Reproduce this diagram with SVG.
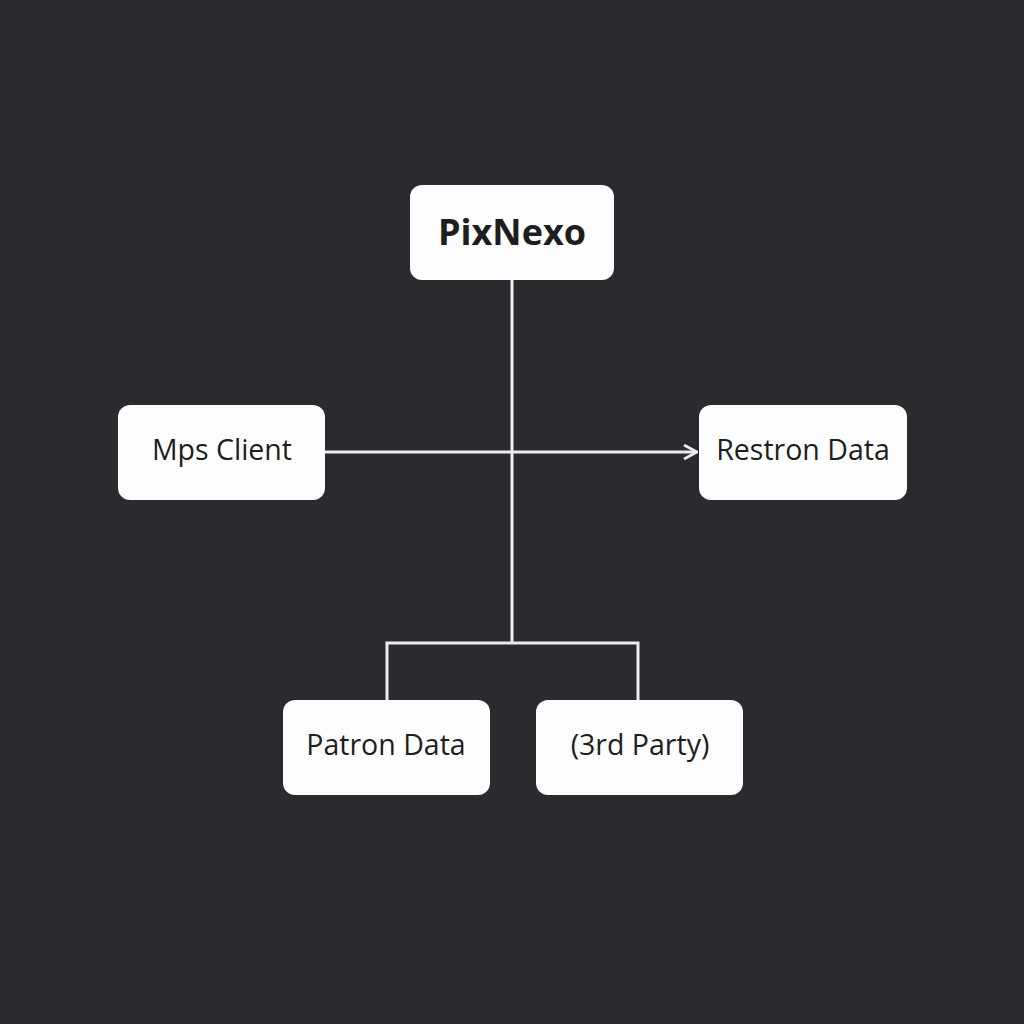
<svg xmlns="http://www.w3.org/2000/svg" width="1024" height="1024" viewBox="0 0 1024 1024">
<style>
.box{fill:#fdfdfd}
.lbl{font-family:"Open Sans","Noto Sans",sans-serif;font-size:28.5px;fill:#1e1e20;text-anchor:middle;dominant-baseline:central}
.title{font-weight:bold;font-size:36px}
.conn{stroke:#ececec;stroke-width:3;fill:none}
</style>
<defs>
<marker id="arr" viewBox="0 0 16 16" refX="15" refY="8" markerWidth="16" markerHeight="16" markerUnits="userSpaceOnUse" orient="auto">
<path d="M2,1 L15,8 L2,15" fill="none" stroke="#ececec" stroke-width="2.8"/>
</marker>
</defs>
<rect width="1024" height="1024" fill="#2a2b2f"/>
<g id="connectors">
<line class="conn" x1="512" y1="280" x2="512" y2="643"/>
<line class="conn" x1="325" y1="452" x2="697" y2="452" marker-end="url(#arr)"/>
<polyline class="conn" points="387,700 387,643 638,643 638,700"/>
</g>
<g id="pixnexo">
<rect class="box" x="410" y="185" width="204" height="95" rx="12"/>
<text class="lbl title" x="512" y="231">PixNexo</text>
</g>
<g id="mps-client">
<rect class="box" x="118" y="405" width="207" height="95" rx="12"/>
<text class="lbl" x="222" y="449">Mps Client</text>
</g>
<g id="restron-data">
<rect class="box" x="699" y="405" width="208" height="95" rx="12"/>
<text class="lbl" x="803" y="449">Restron Data</text>
</g>
<g id="patron-data">
<rect class="box" x="283" y="700" width="207" height="95" rx="12"/>
<text class="lbl" x="386" y="744">Patron Data</text>
</g>
<g id="third-party">
<rect class="box" x="536" y="700" width="207" height="95" rx="12"/>
<text class="lbl" x="640" y="744">(3rd Party)</text>
</g>
</svg>
